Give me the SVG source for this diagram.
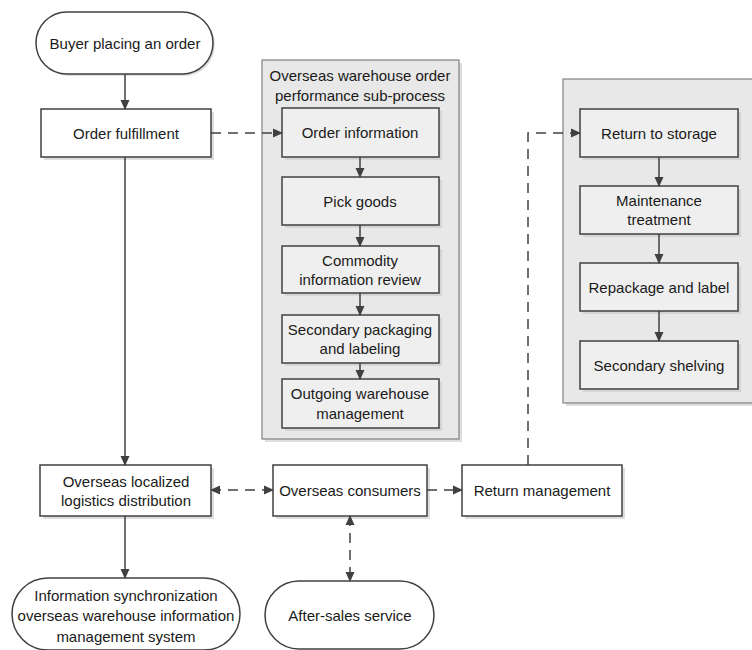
<svg xmlns="http://www.w3.org/2000/svg" width="752" height="650" viewBox="0 0 752 650">
<defs>
<marker id="ah" markerWidth="10" markerHeight="10" refX="9" refY="5" orient="auto-start-reverse" markerUnits="userSpaceOnUse">
<path d="M0,0.5 L10,5 L0,9.5 Z" fill="#404040"/>
</marker>
</defs>
<style>
text{font-family:"Liberation Sans",Arial,sans-serif;font-size:15px;fill:#1a1a1a;text-anchor:middle;dominant-baseline:central}
.box{fill:#ffffff;stroke:#404040;stroke-width:1.5}
.ibox{fill:#efefef;stroke:#404040;stroke-width:1.5}
.grp{fill:#e8e8e8;stroke:#808080;stroke-width:1.2}
.sh{fill:#c8c8c8;opacity:0.6}
.ln{fill:none;stroke:#404040;stroke-width:1.5}
.dash{stroke-dasharray:10,7}
</style>

<g id="group-subprocess">
<rect class="sh" x="265" y="63" width="197" height="379"/>
<rect class="grp" x="262" y="60" width="197" height="379"/>
<text x="360" y="75">Overseas warehouse order</text>
<text x="360" y="95">performance sub-process</text>
</g>
<g id="group-return">
<rect class="sh" x="566" y="82" width="200" height="324"/>
<rect class="grp" x="563" y="79" width="200" height="324"/>
</g>

<g id="buyer">
<rect class="sh" x="39" y="14" width="176" height="62" rx="31"/>
<rect class="box" x="36" y="12" width="177" height="62" rx="31"/>
<text x="125" y="43">Buyer placing an order</text>
</g>
<g id="order-fulfillment">
<rect class="sh" x="44" y="112" width="170" height="48"/>
<rect class="box" x="41" y="109" width="170" height="48"/>
<text x="126" y="133">Order fulfillment</text>
</g>

<g id="order-information">
<rect class="sh" x="285" y="111" width="157" height="49"/>
<rect class="ibox" x="282" y="108" width="157" height="49"/>
<text x="360" y="132">Order information</text>
</g>
<g id="pick-goods">
<rect class="sh" x="285" y="180" width="157" height="48"/>
<rect class="ibox" x="282" y="177" width="157" height="48"/>
<text x="360" y="201">Pick goods</text>
</g>
<g id="commodity-review">
<rect class="sh" x="285" y="249" width="157" height="47"/>
<rect class="ibox" x="282" y="246" width="157" height="47"/>
<text x="360" y="260">Commodity</text>
<text x="360" y="279">information review</text>
</g>
<g id="secondary-packaging">
<rect class="sh" x="285" y="318" width="157" height="48"/>
<rect class="ibox" x="282" y="315" width="157" height="48"/>
<text x="360" y="329">Secondary packaging</text>
<text x="360" y="348">and labeling</text>
</g>
<g id="outgoing-management">
<rect class="sh" x="285" y="382" width="157" height="49"/>
<rect class="ibox" x="282" y="379" width="157" height="49"/>
<text x="360" y="393">Outgoing warehouse</text>
<text x="360" y="413">management</text>
</g>

<g id="return-to-storage">
<rect class="sh" x="583" y="112" width="158" height="48"/>
<rect class="ibox" x="580" y="109" width="158" height="48"/>
<text x="659" y="133">Return to storage</text>
</g>
<g id="maintenance-treatment">
<rect class="sh" x="583" y="189" width="158" height="48"/>
<rect class="ibox" x="580" y="186" width="158" height="48"/>
<text x="659" y="200">Maintenance</text>
<text x="659" y="219">treatment</text>
</g>
<g id="repackage-label">
<rect class="sh" x="583" y="266" width="158" height="48"/>
<rect class="ibox" x="580" y="263" width="158" height="48"/>
<text x="659" y="287">Repackage and label</text>
</g>
<g id="secondary-shelving">
<rect class="sh" x="583" y="344" width="158" height="48"/>
<rect class="ibox" x="580" y="341" width="158" height="48"/>
<text x="659" y="365">Secondary shelving</text>
</g>

<g id="localized-distribution">
<rect class="sh" x="43" y="468" width="171" height="51"/>
<rect class="box" x="40" y="465" width="171" height="51"/>
<text x="126" y="481">Overseas localized</text>
<text x="126" y="500">logistics distribution</text>
</g>
<g id="overseas-consumers">
<rect class="sh" x="276" y="468" width="154" height="51"/>
<rect class="box" x="273" y="465" width="154" height="51"/>
<text x="350" y="490">Overseas consumers</text>
</g>
<g id="return-management">
<rect class="sh" x="465" y="468" width="160" height="51"/>
<rect class="box" x="462" y="465" width="160" height="51"/>
<text x="542" y="490">Return management</text>
</g>
<g id="info-sync">
<rect class="box" x="12" y="578" width="228" height="72" rx="36"/>
<text x="126" y="595">Information synchronization</text>
<text x="126" y="615">overseas warehouse information</text>
<text x="126" y="636">management system</text>
</g>
<g id="after-sales">
<rect class="box" x="265" y="581" width="169" height="68" rx="34"/>
<text x="350" y="615">After-sales service</text>
</g>

<g id="connectors">
<line class="ln" x1="125" y1="74" x2="125" y2="109" marker-end="url(#ah)"/>
<line class="ln dash" x1="211" y1="133" x2="282" y2="133" marker-end="url(#ah)"/>
<line class="ln" x1="125" y1="157" x2="125" y2="465" marker-end="url(#ah)"/>
<line class="ln" x1="125" y1="516" x2="125" y2="578" marker-end="url(#ah)"/>
<line class="ln" x1="360" y1="157" x2="360" y2="177" marker-end="url(#ah)"/>
<line class="ln" x1="360" y1="225" x2="360" y2="246" marker-end="url(#ah)"/>
<line class="ln" x1="360" y1="293" x2="360" y2="315" marker-end="url(#ah)"/>
<line class="ln" x1="360" y1="363" x2="360" y2="379" marker-end="url(#ah)"/>
<line class="ln" x1="659" y1="157" x2="659" y2="186" marker-end="url(#ah)"/>
<line class="ln" x1="659" y1="234" x2="659" y2="263" marker-end="url(#ah)"/>
<line class="ln" x1="659" y1="311" x2="659" y2="341" marker-end="url(#ah)"/>
<line class="ln dash" x1="211" y1="490" x2="273" y2="490" marker-start="url(#ah)" marker-end="url(#ah)"/>
<line class="ln dash" x1="427" y1="490" x2="462" y2="490" marker-end="url(#ah)"/>
<line class="ln dash" x1="350" y1="516" x2="350" y2="581" marker-start="url(#ah)" marker-end="url(#ah)"/>
<polyline class="ln dash" points="528,465 528,133 580,133" marker-end="url(#ah)"/>
</g>
</svg>
